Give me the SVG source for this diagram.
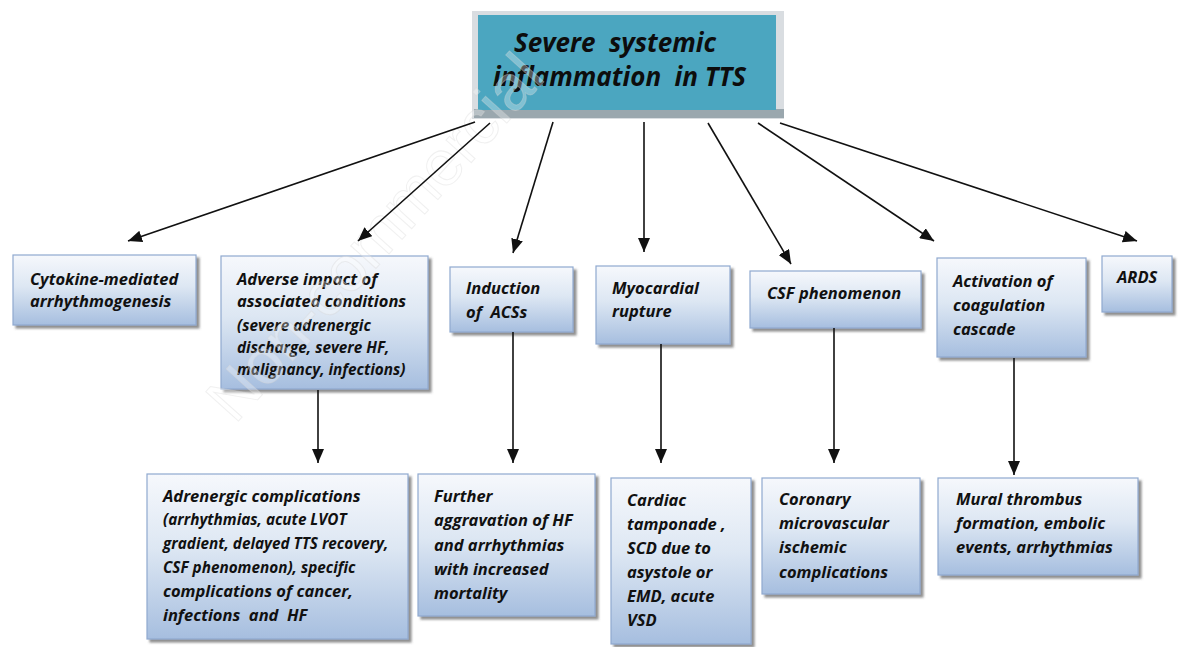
<svg xmlns="http://www.w3.org/2000/svg" width="1186" height="647" viewBox="0 0 1186 647">
<style>
.box{fill:url(#g);stroke:#8fa9cf;stroke-width:1.2;filter:url(#sh)}
text{white-space:pre}
.t{font-family:"Open Sans",Lato,"Liberation Sans",sans-serif;font-weight:bold;font-style:italic;font-size:16.5px;fill:#111}
.s{font-size:15.3px}
.top{font-family:"Open Sans",Lato,"Liberation Sans",sans-serif;font-weight:bold;font-style:italic;font-size:26px;fill:#0d0d0d}
.c line{stroke:#111;stroke-width:1.6;marker-end:url(#ah)}
.wm{font-family:"Liberation Sans",Arial,sans-serif;font-size:64px;fill:#ffffff;fill-opacity:0.3;stroke:#d4d4d4;stroke-opacity:0.35;stroke-width:1}
</style>
<defs>
<linearGradient id="g" x1="0" y1="0" x2="0" y2="1">
<stop offset="0" stop-color="#f6f8fc"/>
<stop offset="0.45" stop-color="#dde7f3"/>
<stop offset="1" stop-color="#a6bedf"/>
</linearGradient>
<filter id="sh" x="-10%" y="-10%" width="130%" height="130%">
<feDropShadow dx="3" dy="3" stdDeviation="1.3" flood-color="#555" flood-opacity="0.65"/>
</filter>
<marker id="ah" viewBox="0 0 10 10" refX="10" refY="5" markerWidth="14" markerHeight="12" markerUnits="userSpaceOnUse" orient="auto" preserveAspectRatio="none">
<path d="M0,0 L10,5 L0,10 z" fill="#111"/>
</marker>
</defs>
<rect width="1186" height="647" fill="#fff"/>

<g id="root">
<rect x="472" y="11" width="312" height="108" fill="#d9dde1"/>
<rect x="474" y="109" width="310" height="9" fill="#9aa7ae"/>
<rect x="478" y="15" width="298" height="95" fill="#4ba6c0"/>
<text class="top" x="514" y="52">Severe  systemic</text>
<text class="top" x="493" y="86">inflammation  in TTS</text>
</g>

<g id="n1"><rect class="box" x="13" y="255" width="183" height="70"/>
<text class="t" x="30" y="285">Cytokine-mediated</text>
<text class="t" x="30" y="307">arrhythmogenesis</text></g>

<g id="n2"><rect class="box" x="221" y="256" width="207" height="133"/>
<text class="t" x="237" y="285">Adverse impact of</text>
<text class="t" x="237" y="307">associated conditions</text>
<text class="t s" x="237" y="331">(severe adrenergic</text>
<text class="t s" x="237" y="353">discharge, severe HF,</text>
<text class="t s" x="237" y="375">malignancy, infections)</text></g>

<g id="n3"><rect class="box" x="450" y="267" width="123" height="65"/>
<text class="t" x="466" y="294">Induction</text>
<text class="t" x="466" y="318">of  ACSs</text></g>

<g id="n4"><rect class="box" x="596" y="266" width="134" height="78"/>
<text class="t" x="612" y="294">Myocardial</text>
<text class="t" x="612" y="317">rupture</text></g>

<g id="n5"><rect class="box" x="750" y="271" width="171" height="57"/>
<text class="t" x="767" y="299">CSF phenomenon</text></g>

<g id="n6"><rect class="box" x="937" y="258" width="149" height="99"/>
<text class="t" x="953" y="287">Activation of</text>
<text class="t" x="953" y="311">coagulation</text>
<text class="t" x="953" y="335">cascade</text></g>

<g id="n7"><rect class="box" x="1102" y="256" width="70" height="56"/>
<text class="t" x="1117" y="283">ARDS</text></g>

<g id="n8"><rect class="box" x="147" y="474" width="261" height="165"/>
<text class="t" x="163" y="502">Adrenergic complications</text>
<text class="t s" x="163" y="525">(arrhythmias, acute LVOT</text>
<text class="t s" x="163" y="549">gradient, delayed TTS recovery,</text>
<text class="t s" x="163" y="573">CSF phenomenon), specific</text>
<text class="t" x="163" y="597">complications of cancer,</text>
<text class="t" x="163" y="621">infections  and  HF</text></g>

<g id="n9"><rect class="box" x="418" y="474" width="177" height="142"/>
<text class="t" x="434" y="502">Further</text>
<text class="t" x="434" y="526">aggravation of HF</text>
<text class="t" x="434" y="551">and arrhythmias</text>
<text class="t" x="434" y="575">with increased</text>
<text class="t" x="434" y="599">mortality</text></g>

<g id="n10"><rect class="box" x="611" y="478" width="140" height="166"/>
<text class="t" x="627" y="506">Cardiac</text>
<text class="t" x="627" y="530">tamponade ,</text>
<text class="t" x="627" y="554">SCD due to</text>
<text class="t" x="627" y="578">asystole or</text>
<text class="t" x="627" y="602">EMD, acute</text>
<text class="t" x="627" y="626">VSD</text></g>

<g id="n11"><rect class="box" x="762" y="478" width="158" height="116"/>
<text class="t" x="779" y="505">Coronary</text>
<text class="t" x="779" y="529">microvascular</text>
<text class="t" x="779" y="553">ischemic</text>
<text class="t" x="779" y="578">complications</text></g>

<g id="n12"><rect class="box" x="938" y="478" width="200" height="97"/>
<text class="t" x="956" y="505">Mural thrombus</text>
<text class="t" x="956" y="529">formation, embolic</text>
<text class="t" x="956" y="553">events, arrhythmias</text></g>

<text class="wm" transform="translate(235,425) rotate(-48)">Non-commercial</text>

<g class="c" id="connectors">
<line x1="475" y1="122" x2="128" y2="241"/>
<line x1="490" y1="123" x2="358" y2="241"/>
<line x1="553" y1="122" x2="513" y2="253"/>
<line x1="644" y1="122" x2="644" y2="252"/>
<line x1="708" y1="123" x2="791" y2="264"/>
<line x1="758" y1="123" x2="934" y2="241"/>
<line x1="780" y1="123" x2="1137" y2="241"/>
<line x1="318" y1="390" x2="318" y2="463"/>
<line x1="513" y1="332" x2="513" y2="463"/>
<line x1="661" y1="344" x2="661" y2="463"/>
<line x1="834" y1="328" x2="834" y2="463"/>
<line x1="1014" y1="358" x2="1014" y2="475"/>
</g>
</svg>
